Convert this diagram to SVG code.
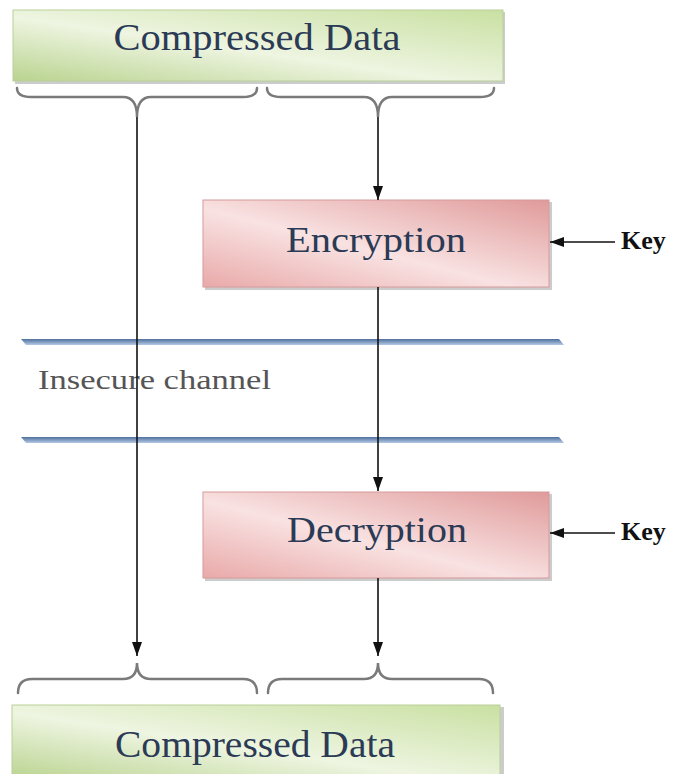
<svg xmlns="http://www.w3.org/2000/svg" width="684" height="774" viewBox="0 0 684 774">
<style>
.title{font-family:"Liberation Serif",serif;fill:#2b3a55;text-anchor:middle}
.key{font-family:"Liberation Serif",serif;font-weight:bold;font-size:26px;fill:#111}
.brace{fill:none;stroke:#7a7a7a;stroke-width:2.5;stroke-linecap:round}
.conn{stroke:#111;stroke-width:1.6;fill:none;marker-end:url(#arr)}
.shadow{fill:#9a9a9a;opacity:0.5}
</style>
<defs>
<linearGradient id="green" x1="0" y1="1" x2="1" y2="0">
<stop offset="0" stop-color="#b9d38f"/>
<stop offset="0.45" stop-color="#eef5e1"/>
<stop offset="1" stop-color="#c9e0a2"/>
</linearGradient>
<linearGradient id="pink" x1="0" y1="1" x2="1" y2="0">
<stop offset="0" stop-color="#e9a9a9"/>
<stop offset="0.45" stop-color="#f9e2e2"/>
<stop offset="1" stop-color="#e09a9a"/>
</linearGradient>
<linearGradient id="blue" x1="0" y1="0" x2="0" y2="1">
<stop offset="0" stop-color="#4f6f9c"/>
<stop offset="1" stop-color="#b4c9e6"/>
</linearGradient>
<marker id="arr" viewBox="0 0 14 10" refX="14" refY="5" markerWidth="14" markerHeight="10" markerUnits="userSpaceOnUse" orient="auto">
<path d="M0,0 L14,5 L0,10 z" fill="#111"/>
</marker>
</defs>

<g id="channel">
<polygon points="21,339 559,339 564,345 26,345" fill="url(#blue)"/>
<polygon points="21,437 559,437 564,443 26,443" fill="url(#blue)"/>
<text x="38" y="389" font-family="Liberation Serif, serif" font-size="27" fill="#555" textLength="233" lengthAdjust="spacingAndGlyphs">Insecure channel</text>
</g>

<g id="top-data">
<rect class="shadow" x="15" y="12" width="490" height="72"/>
<rect x="13" y="10" width="490" height="71" fill="url(#green)" stroke="#b9cf98" stroke-width="1"/>
<text class="title" x="257" y="50" font-size="38" textLength="287" lengthAdjust="spacingAndGlyphs">Compressed Data</text>
</g>

<g id="braces">
<path class="brace" d="M17,88 Q17,97 31,97 L123,97 Q137,97 137,117 Q137,97 151,97 L243,97 Q257,97 257,88"/>
<path class="brace" d="M267,88 Q267,97 281,97 L364,97 Q378,97 378,117 Q378,97 392,97 L480,97 Q494,97 494,88"/>
<path class="brace" d="M18,693 Q18,679 32,679 L123,679 Q137,679 137,663 Q137,679 151,679 L243,679 Q257,679 257,693"/>
<path class="brace" d="M268,693 Q268,679 282,679 L364,679 Q378,679 378,663 Q378,679 392,679 L479,679 Q493,679 493,693"/>
</g>

<g id="encryption">
<rect class="shadow" x="205" y="202" width="347" height="88"/>
<rect x="203" y="200" width="346" height="87" fill="url(#pink)" stroke="#d79a9a" stroke-width="1"/>
<text class="title" x="376" y="252" font-size="36" textLength="180" lengthAdjust="spacingAndGlyphs">Encryption</text>
</g>
<g id="key1"><text class="key" x="621" y="249">Key</text></g>

<g id="decryption">
<rect class="shadow" x="205" y="494" width="347" height="87"/>
<rect x="203" y="492" width="346" height="86" fill="url(#pink)" stroke="#d79a9a" stroke-width="1"/>
<text class="title" x="377" y="542" font-size="36" textLength="180" lengthAdjust="spacingAndGlyphs">Decryption</text>
</g>
<g id="key2"><text class="key" x="621" y="540">Key</text></g>

<g id="bottom-data">
<rect class="shadow" x="14" y="707" width="490" height="72"/>
<rect x="12" y="705" width="488" height="75" fill="url(#green)" stroke="#b9cf98" stroke-width="1"/>
<text class="title" x="255" y="757" font-size="38" textLength="280" lengthAdjust="spacingAndGlyphs">Compressed Data</text>
</g>

<g id="connectors">
<line class="conn" x1="378" y1="117" x2="378" y2="200"/>
<line class="conn" x1="137" y1="117" x2="137" y2="656"/>
<line class="conn" x1="378" y1="287" x2="378" y2="491"/>
<line class="conn" x1="378" y1="578" x2="378" y2="656"/>
<line class="conn" x1="615" y1="242" x2="550" y2="242"/>
<line class="conn" x1="615" y1="533" x2="550" y2="533"/>
</g>
</svg>
